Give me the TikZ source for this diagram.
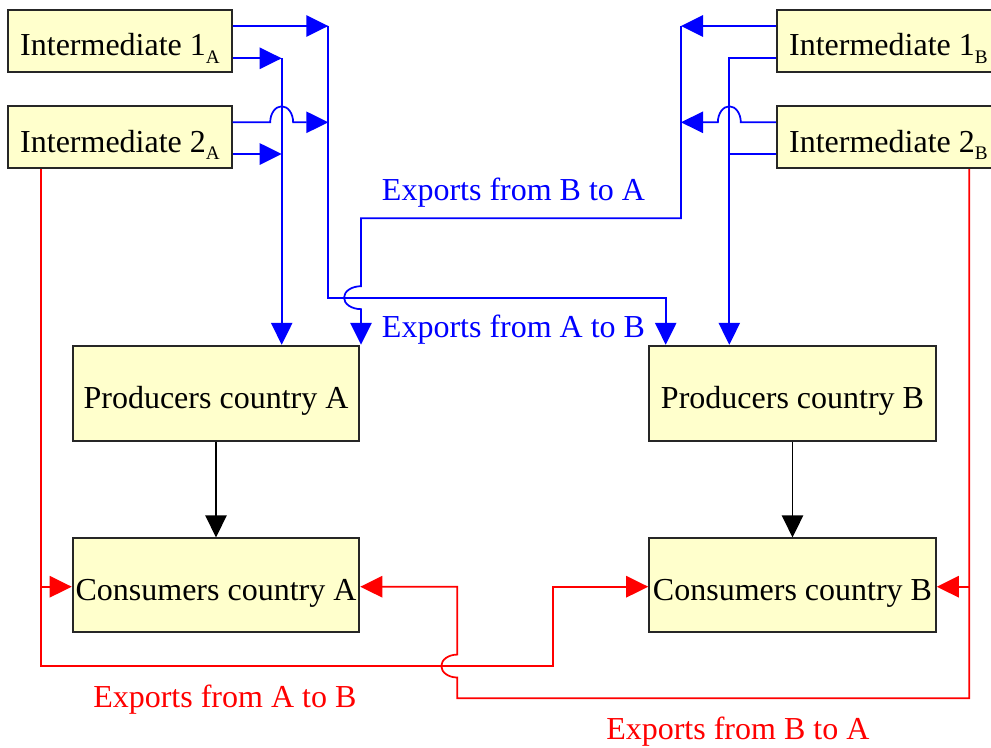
\documentclass[tikz,border=0pt]{standalone}
\usepackage{fontspec}
\setmainfont{Liberation Serif}
\usetikzlibrary{arrows.meta,calc}
\definecolor{boxfill}{HTML}{FFFFCC}
\newcommand{\mysub}[1]{\raisebox{-5.5pt}{\fontsize{14.4}{16}\selectfont #1}}
\tikzset{
  box/.style={draw=black!85, line width=1.4pt, fill=boxfill, inner sep=0pt,
    text height=22.5pt, text depth=0pt, font=\fontsize{24}{28}\selectfont},
  ibox/.style={box, minimum width=167.5pt, minimum height=46.3pt},
  pbox/.style={box, minimum width=215pt, minimum height=71.25pt},
  cbox/.style={box, minimum width=215pt, minimum height=70.5pt},
  lbl/.style={anchor=base west, inner sep=0pt, font=\fontsize{24}{28}\selectfont},
  arrtip/.style={-{Triangle[length=16.5pt,width=16pt]}},
  bline/.style={draw=blue, line width=1.3pt},
  barrow/.style={bline, arrtip},
  rline/.style={draw=red, line width=1.3pt},
  rarrow/.style={rline, arrtip},
  karrow/.style={draw=black, line width=1.3pt, arrtip}
}
\begin{document}
\begin{tikzpicture}[x=0.75pt,y=-0.75pt]
\useasboundingbox (0,0) rectangle (991,747);
\clip (0,0) rectangle (991,747);
% boxes
\node[ibox] (i1a) at (120,40.85) {Intermediate 1\mysub{A}};
\node[ibox] (i2a) at (120,137.2) {Intermediate 2\mysub{A}};
\node[ibox] (i1b) at (888.4,40.85) {Intermediate 1\mysub{B}};
\node[ibox] (i2b) at (888.4,137.2) {Intermediate 2\mysub{B}};
\node[pbox] (pa) at (216,393.2) {Producers country A};
\node[pbox] (pb) at (792.5,393.2) {Producers country B};
\node[cbox] (ca) at (216,585.3) {Consumers country A};
\node[cbox] (cb) at (792.5,585.3) {Consumers country B};
% labels
\node[lbl, text=blue] (eba) at (381.7,200) {Exports from B to A};
\node[lbl, text=blue] (eab) at (381.7,337.3) {Exports from A to B};
\node[lbl, text=red] (rab) at (93,707) {Exports from A to B};
\node[lbl, text=red] (rba) at (606,739.3) {Exports from B to A};
% junctions
\coordinate (ja1) at (328.3,26);
\coordinate (ja2) at (281.7,58.3);
\coordinate (ja3) at (328.3,122.3);
\coordinate (ja4) at (281.7,154);
\coordinate (jab) at (328.3,297.7);
\coordinate (jab2) at (665.7,297.7);
\coordinate (jb1) at (681,26);
\coordinate (jb2) at (729.3,58.3);
\coordinate (jb3) at (681,122.3);
\coordinate (jb4) at (729.3,154);
\coordinate (jba) at (681,218.3);
\coordinate (jba2) at (361,218.3);
\coordinate (ra1) at (40.7,586.7);
\coordinate (ra2) at (40.7,666);
\coordinate (ra3) at (553.3,666);
\coordinate (ra4) at (553.3,586.7);
\coordinate (rb1) at (969.3,586.7);
\coordinate (rb2) at (969.3,698.3);
\coordinate (rb3) at (457.3,698.3);
\coordinate (rb4) at (457.3,586.7);
% blue, side A
\draw[barrow] (i1a.east |- ja1) -- (ja1);
\draw[barrow] (i1a.east |- ja2) -- (ja2);
\draw[barrow] (i2a.east |- ja3) -- (270.2,122.3)
  arc[start angle=180,end angle=0,x radius=8.6pt,y radius=12pt] -- (ja3);
\draw[barrow] (i2a.east |- ja4) -- (ja4);
\draw[barrow] (ja2) -- (ja2 |- pa.north);
\draw[barrow] (ja1) -- (jab) -- (jab2) -- (jab2 |- pb.north);
% blue, side B
\draw[barrow] (i1b.west |- jb1) -- (jb1);
\draw[barrow] (i1b.west |- jb2) -- (jb2) -- (jb2 |- pb.north);
\draw[barrow] (i2b.west |- jb3) -- (740.8,122.3)
  arc[start angle=0,end angle=180,x radius=8.6pt,y radius=12pt] -- (jb3);
\draw[bline] (i2b.west |- jb4) -- (jb4);
\draw[barrow] (jb1) -- (jba) -- (jba2) -- (361,286.2)
  arc[start angle=90,end angle=270,x radius=12.75pt,y radius=8.6pt] -- (jba2 |- pa.north);
% red
\draw[rarrow] (i2a.south -| ra1) -- (ra2) -- (ra3) -- (ra4) -- (cb.west |- ra4);
\draw[rarrow] (ra1) -- (ca.west |- ra1);
\draw[rarrow] (i2b.south -| rb1) -- (rb2) -- (rb3) -- (457.3,677.5)
  arc[start angle=270,end angle=90,x radius=12pt,y radius=8.6pt] -- (rb4) -- (ca.east |- rb4);
\draw[rarrow] (rb1) -- (cb.east |- rb1);
% black
\draw[karrow] (pa.south) -- (ca.north);
\draw[karrow] (pb.south) -- (cb.north);
\end{tikzpicture}
\end{document}
